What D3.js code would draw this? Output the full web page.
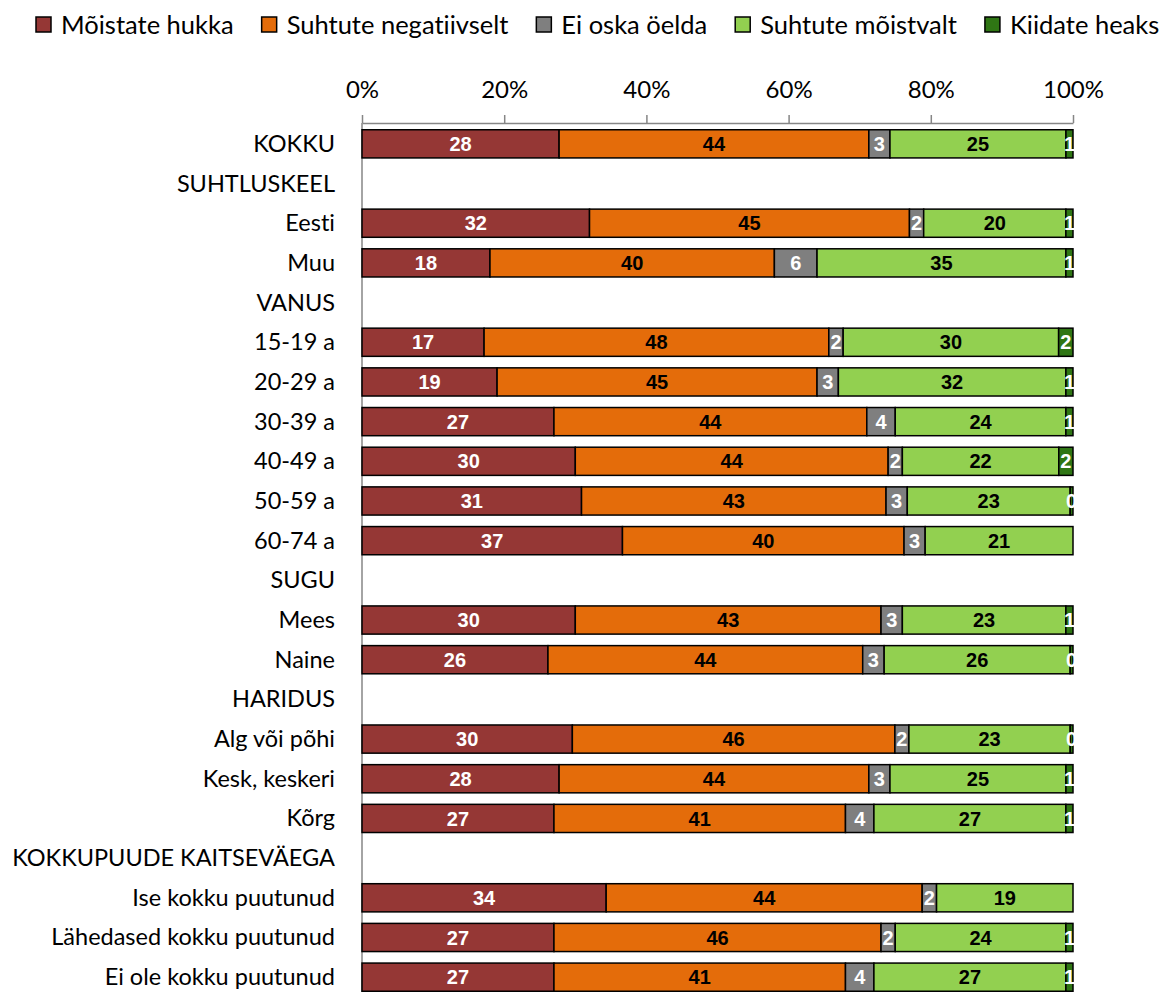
<!DOCTYPE html>
<html><head><meta charset="utf-8">
<script src="https://cdn.jsdelivr.net/npm/d3@7"></script>
<style>body{margin:0;background:#fff} text{font-variant-ligatures:none;font-feature-settings:"liga" 0,"clig" 0}</style>
</head><body>
<svg id="c" width="1167" height="992"></svg>
<script>
const categories = ["KOKKU","SUHTLUSKEEL","Eesti","Muu","VANUS","15-19 a","20-29 a","30-39 a","40-49 a","50-59 a","60-74 a","SUGU","Mees","Naine","HARIDUS","Alg või põhi","Kesk, keskeri","Kõrg","KOKKUPUUDE KAITSEVÄEGA","Ise kokku puutunud","Lähedased kokku puutunud","Ei ole kokku puutunud"];
const seriesNames = ["Mõistate hukka","Suhtute negatiivselt","Ei oska öelda","Suhtute mõistvalt","Kiidate heaks"];
// null = header row (no bar)
const hukka      = [28,null,32,18,null,17,19,27,30,31,37,null,30,26,null,30,28,27,null,34,27,27];
const negatiivne = [44,null,45,40,null,48,45,44,44,43,40,null,43,44,null,46,44,41,null,44,46,41];
const eiOska     = [3,null,2,6,null,2,3,4,2,3,3,null,3,3,null,2,3,4,null,2,2,4];
const moistvalt  = [25,null,20,35,null,30,32,24,22,23,21,null,23,26,null,23,25,27,null,19,24,27];
const heaks      = [1,null,1,1,null,2,1,1,2,0.4,0,null,1,0.4,null,0.4,1,1,null,0,1,1];
const tickLabels = ["0%","20%","40%","60%","80%","100%"];

const colors = ["#953735","#E46C0A","#7F7F7F","#92D050","#2F7614"];
const labelColors = ["#fff","#000","#fff","#000","#fff"];
const seriesArr = [hukka,negatiivne,eiOska,moistvalt,heaks];

const svg = d3.select("#c");
const labelFont = "Lato, 'Open Sans', sans-serif";

const x = d3.scaleLinear().domain([0,1]).range([362,1073]);
const y = d3.scaleBand().domain(categories).range([124,997]).paddingInner(0.29).paddingOuter(0.145);

// axis
const ax = d3.axisTop(x).tickValues([0,0.2,0.4,0.6,0.8,1]).tickFormat((d,i)=>tickLabels[i]).tickSize(8).tickSizeOuter(0);
const gAx = svg.append("g").attr("transform","translate(0,123)").call(ax);
gAx.select(".domain").attr("stroke","#868686").attr("stroke-width",1.5);
gAx.selectAll(".tick line").attr("stroke","#868686").attr("stroke-width",1.5);
gAx.selectAll(".tick text").attr("font-family",labelFont).attr("font-size",24).attr("fill","#000")
  .attr("y",-25).attr("dy","0");

// vertical axis line
svg.append("line").attr("x1",362).attr("x2",362).attr("y1",123).attr("y2",999)
  .attr("stroke","#868686").attr("stroke-width",1.5);

// category labels
svg.append("g").selectAll("text").data(categories).join("text")
  .attr("x",335).attr("y",d=>y(d)+y.bandwidth()/2).attr("dy","0.34em")
  .attr("text-anchor","end").attr("font-family",labelFont).attr("font-size",23.5).attr("fill","#000")
  .text(d=>d);

// stacked bars
const rows = categories.map((c,i)=>{
  if (hukka[i]===null) return null;
  const vals = seriesArr.map(s=>s[i]);
  const total = d3.sum(vals);
  let acc = 0;
  return {cat:c, segs: vals.map((v,k)=>{const s={k,v,x0:acc/total,x1:(acc+v)/total}; acc+=v; return s;})};
}).filter(d=>d);

const gBars = svg.append("g");
rows.forEach(r=>{
  const g = gBars.append("g");
  g.selectAll("rect").data(r.segs.filter(s=>s.v>0)).join("rect")
    .attr("x",s=>x(s.x0)).attr("width",s=>x(s.x1)-x(s.x0))
    .attr("y",y(r.cat)).attr("height",y.bandwidth())
    .attr("fill",s=>colors[s.k]).attr("stroke","#000").attr("stroke-width",1.5);
  g.selectAll("text").data(r.segs.filter(s=>s.v>0)).join("text")
    .attr("x",s=>(x(s.x0)+x(s.x1))/2).attr("y",y(r.cat)+y.bandwidth()/2).attr("dy","0.36em")
    .attr("text-anchor","middle").attr("font-family","'Liberation Sans', Arial, sans-serif")
    .attr("font-weight","bold").attr("font-size",20).attr("fill",s=>labelColors[s.k])
    .text(s=>Math.round(s.v));
});

// legend (laid out by measured text width)
const lg = svg.append("g");
let lx = 36;
seriesNames.forEach((n,i)=>{
  lg.append("rect").attr("x",lx).attr("y",17).attr("width",15).attr("height",15)
    .attr("fill",colors[i]).attr("stroke","#000").attr("stroke-width",1.5);
  const t = lg.append("text").attr("x",lx+25).attr("y",25).attr("dy","0.36em")
    .attr("font-family",labelFont).attr("font-size",25.5).attr("fill","#000").text(n);
  lx = lx + 25 + t.node().getComputedTextLength() + 28;
});
</script>
</body></html>
